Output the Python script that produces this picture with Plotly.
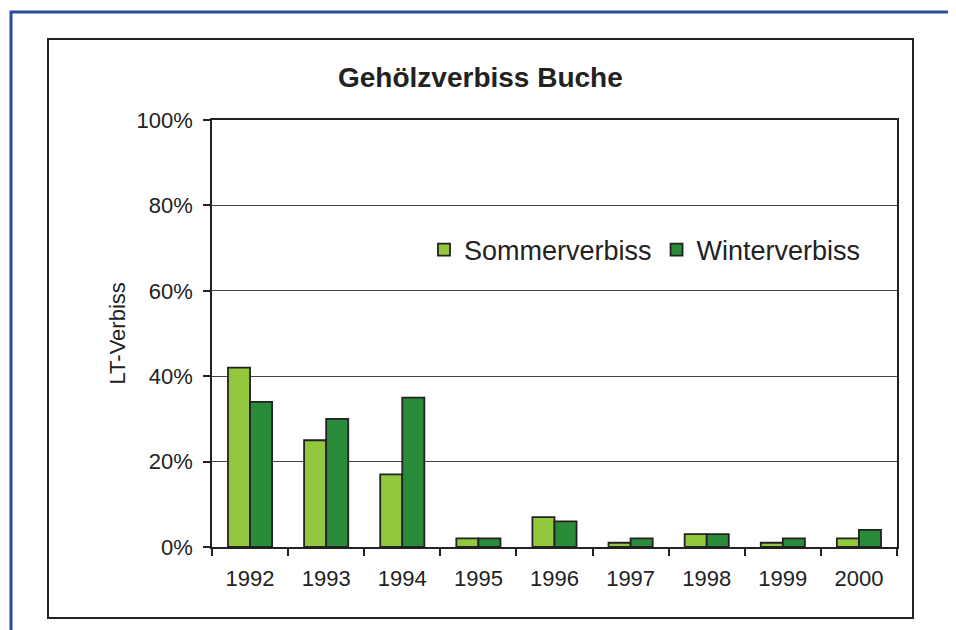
import plotly.graph_objects as go

years = ["1992", "1993", "1994", "1995", "1996", "1997", "1998", "1999", "2000"]
sommer = [42, 25, 17, 2, 7, 1, 3, 1, 2]
winter = [34, 30, 35, 2, 6, 2, 3, 2, 4]
y_ticks = [0, 20, 40, 60, 80, 100]
y_ticklabels = ["0%", "20%", "40%", "60%", "80%", "100%"]

FONT = "Liberation Sans, Arial, sans-serif"

fig = go.Figure()
fig.add_trace(go.Bar(x=years, y=sommer, name="Sommerverbiss",
                     marker=dict(color="#93c83e", line=dict(color="#222222", width=1.8))))
fig.add_trace(go.Bar(x=years, y=winter, name="Winterverbiss",
                     marker=dict(color="#2a8b3b", line=dict(color="#222222", width=1.8))))

# page coordinates of the plot area (page body has an 8px offset)
OFF = 8
L, R, T, B = 212, 897, 120, 547
W, H = 956 - OFF, 630 - OFF
def px(x):
    return (x - L) / (R - L)
def py(y):
    return (B - y) / (B - T)

fig.update_layout(
    width=W, height=H,
    margin=dict(l=L - OFF, r=W - (R - OFF), t=T - OFF, b=H - (B - OFF), pad=0),
    paper_bgcolor="white", plot_bgcolor="white",
    font=dict(family=FONT, color="#222222", size=22),
    barmode="group", bargap=0.42, bargroupgap=0,
    showlegend=True,
    legend=dict(orientation="h", x=px(424), xanchor="left", y=py(250), yanchor="middle",
                font=dict(size=27, family=FONT, color="#222222"),
                bgcolor="rgba(0,0,0,0)", itemclick=False),
    xaxis=dict(type="category", showline=True, linecolor="#222222", linewidth=1.5, mirror=True,
               ticks="outside", ticklen=7, tickcolor="#222222", tickwidth=1.5,
               tickson="boundaries", tickfont=dict(size=22), ticklabelstandoff=11,
               showgrid=False),
    yaxis=dict(range=[0, 100], tickvals=y_ticks, ticktext=y_ticklabels,
               showline=True, linecolor="#222222", linewidth=1.5, mirror=True,
               ticks="outside", ticklen=7, tickcolor="#222222", tickwidth=1.5,
               tickfont=dict(size=22), ticklabelstandoff=6,
               showgrid=True, gridcolor="#444444", gridwidth=1, zeroline=False),
    shapes=[
        dict(type="rect", xref="paper", yref="paper", x0=px(11), x1=px(953), y0=py(680), y1=py(12),
             line=dict(color="#2b4b9b", width=3), layer="below"),
        dict(type="rect", xref="paper", yref="paper", x0=px(48), x1=px(913), y0=py(618), y1=py(39),
             line=dict(color="#222222", width=2), layer="below"),
    ],
    annotations=[
        dict(text="<b>Gehölzverbiss Buche</b>", xref="paper", yref="paper", x=px(480), y=py(77),
             xanchor="center", yanchor="middle", showarrow=False,
             font=dict(size=28, family=FONT, color="#222222")),
        dict(text="LT-Verbiss", xref="paper", yref="paper", x=px(117), y=0.5, textangle=-90,
             xanchor="center", yanchor="middle", showarrow=False,
             font=dict(size=22, family=FONT, color="#222222")),
    ],
)

fig.write_html("out.html")
